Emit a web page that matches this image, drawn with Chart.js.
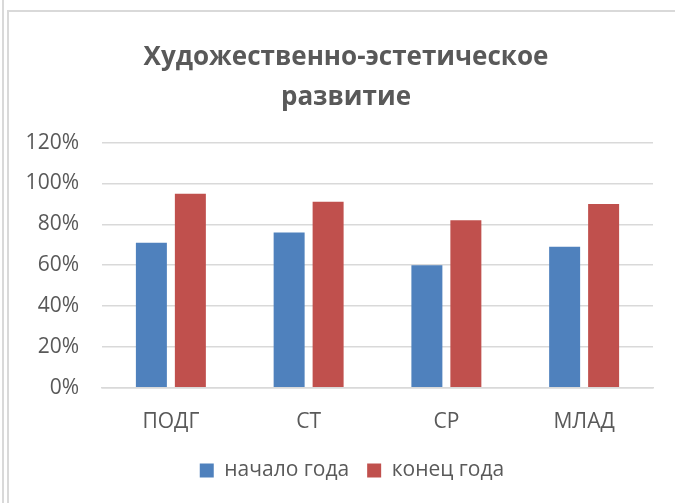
<!DOCTYPE html>
<html>
<head>
<meta charset="utf-8">
<script src="https://cdn.jsdelivr.net/npm/chart.js@4/dist/chart.umd.min.js"></script>
<style>
  body { margin: 0; background: #fff; }
  #page { position: relative; width: 675px; height: 503px; overflow: hidden; }
  #outer { position: absolute; left: 2px; top: 0; width: 2px; height: 503px; background: #d9d9d9; }
  #frame { position: absolute; left: 7px; top: 10px; width: 700px; height: 520px;
           border-top: 2px solid #d9d9d9; border-left: 2px solid #d9d9d9; }
  #box { position: absolute; left: 9px; top: 12px; width: 666px; height: 491px; }
</style>
</head>
<body>
<div id="page">
  <div id="outer"></div>
  <div id="frame"></div>
  <div id="box"><canvas id="myChart" width="666" height="491"></canvas></div>
</div>
<script>
//-------------------------DATA-----------------------------------------------------

var categories = ['ПОДГ', 'СТ', 'СР', 'МЛАД'];
var startYear = [71, 76, 60, 69];      // начало года, %
var endYear = [95, 91, 82, 90];        // конец года, %
var seriesNames = ['начало года', 'конец года'];
var titleLines = ['Художественно-эстетическое', 'развитие'];

//-------------------------CHART-----------------------------------------------------

var textColor = '#595959';
var gridColor = '#d9d9d9';
var font = 'Open Sans';

// title and legend sit a bit to the right, like in the excel picture
var shiftBlocks = {
    id: 'shiftBlocks',
    afterLayout: function (chart) {
        chart.titleBlock.left = 8;
        chart.titleBlock.right = chart.width;
        chart.legend.left += 12;
        chart.legend.right += 12;
    }
};

var ctx = document.getElementById('myChart').getContext('2d');
var chart = new Chart(ctx, {
    type: 'bar',
    data: {
        labels: categories,
        datasets: [{
            label: seriesNames[0],
            backgroundColor: '#4F81BD',
            data: startYear
        }, {
            label: seriesNames[1],
            backgroundColor: '#C0504D',
            data: endYear
        }]
    },
    plugins: [shiftBlocks],
    options: {
        responsive: false,
        animation: false,
        events: [],
        layout: { padding: { left: 18, right: 22, bottom: 12 } },
        datasets: {
            bar: { categoryPercentage: 0.566, barPercentage: 0.795 }
        },
        scales: {
            x: {
                grid: { display: false, drawTicks: false },
                border: { color: gridColor, width: 1.5 },
                ticks: { color: textColor, padding: 22, font: { family: font, size: 21 } },
                afterFit: function (scale) { scale.height -= 15; }
            },
            y: {
                min: 0,
                max: 120,
                grid: { color: gridColor, lineWidth: 1.5, drawTicks: false },
                border: { display: false },
                ticks: {
                    stepSize: 20,
                    color: textColor,
                    padding: 23,
                    font: { family: font, size: 21 },
                    callback: function (v) { return v + '%'; }
                },
                afterFit: function (scale) { scale.width = 75; }
            }
        },
        plugins: {
            title: {
                display: true,
                text: titleLines,
                color: textColor,
                font: { family: font, size: 26, weight: 'bold', lineHeight: 1.55 },
                padding: { top: 25, bottom: 25 }
            },
            legend: {
                position: 'bottom',
                labels: {
                    color: textColor,
                    boxWidth: 14,
                    boxHeight: 14,
                    padding: 18,
                    font: { family: font, size: 21 }
                }
            },
            tooltip: { enabled: false }
        }
    }
});
</script>
</body>
</html>
